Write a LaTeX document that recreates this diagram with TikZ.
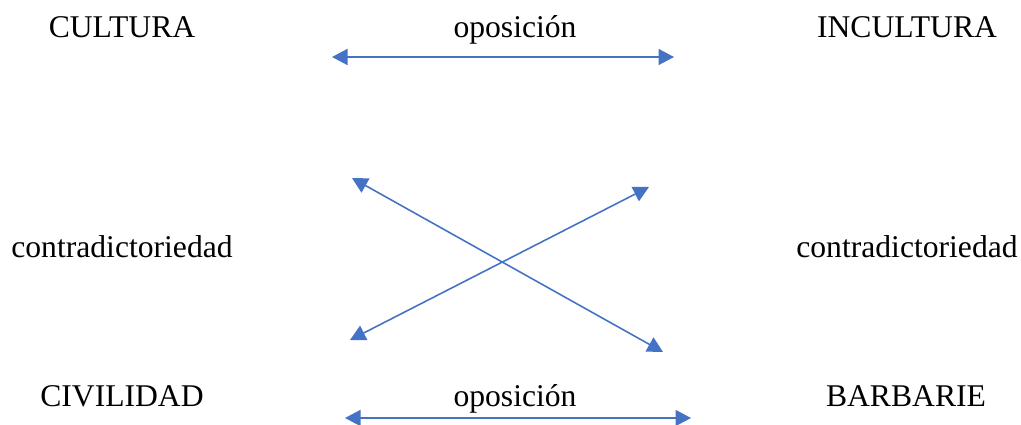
\documentclass[tikz,border=0pt]{standalone}
\usepackage{fontspec}
\setmainfont{Liberation Serif}
\usepackage{xcolor}
\usepackage{tikz}
\usetikzlibrary{arrows.meta}
\definecolor{bluex}{HTML}{4472C4}
\tikzset{
  lbl/.style={anchor=base,inner sep=0pt,font=\fontsize{18}{22}\selectfont},
  dar/.style={{Triangle[length=3.1mm,width=3.2mm]}-{Triangle[length=3.1mm,width=3.2mm]},line width=0.9pt,bluex}
}
\begin{document}
\begin{tikzpicture}[x=0.02cm,y=-0.02cm]
\useasboundingbox (0,0) rectangle (1021,425);
% labels
\node[lbl] (cult) at (122,38) {CULTURA};
\node[lbl] (opa) at (515,38) {oposición};
\node[lbl] (incult) at (907,38) {INCULTURA};
\node[lbl] (contl) at (122,258) {contradictoriedad};
\node[lbl] (contr) at (907,258) {contradictoriedad};
\node[lbl] (civ) at (122,407) {CIVILIDAD};
\node[lbl] (opb) at (515,407) {oposición};
\node[lbl] (barb) at (906,407) {BARBARIE};
% arrow ends
\coordinate (ta) at (332,57);
\coordinate (tb) at (674,57);
\coordinate (ba) at (345,418);
\coordinate (bb) at (691,418);
\coordinate (xa) at (352,178);
\coordinate (xb) at (663,352);
\coordinate (ya) at (350,340);
\coordinate (yb) at (649,187);
\draw[dar] (ta)--(tb);
\draw[dar] (ba)--(bb);
\draw[dar] (xa)--(xb);
\draw[dar] (ya)--(yb);
\end{tikzpicture}
\end{document}
